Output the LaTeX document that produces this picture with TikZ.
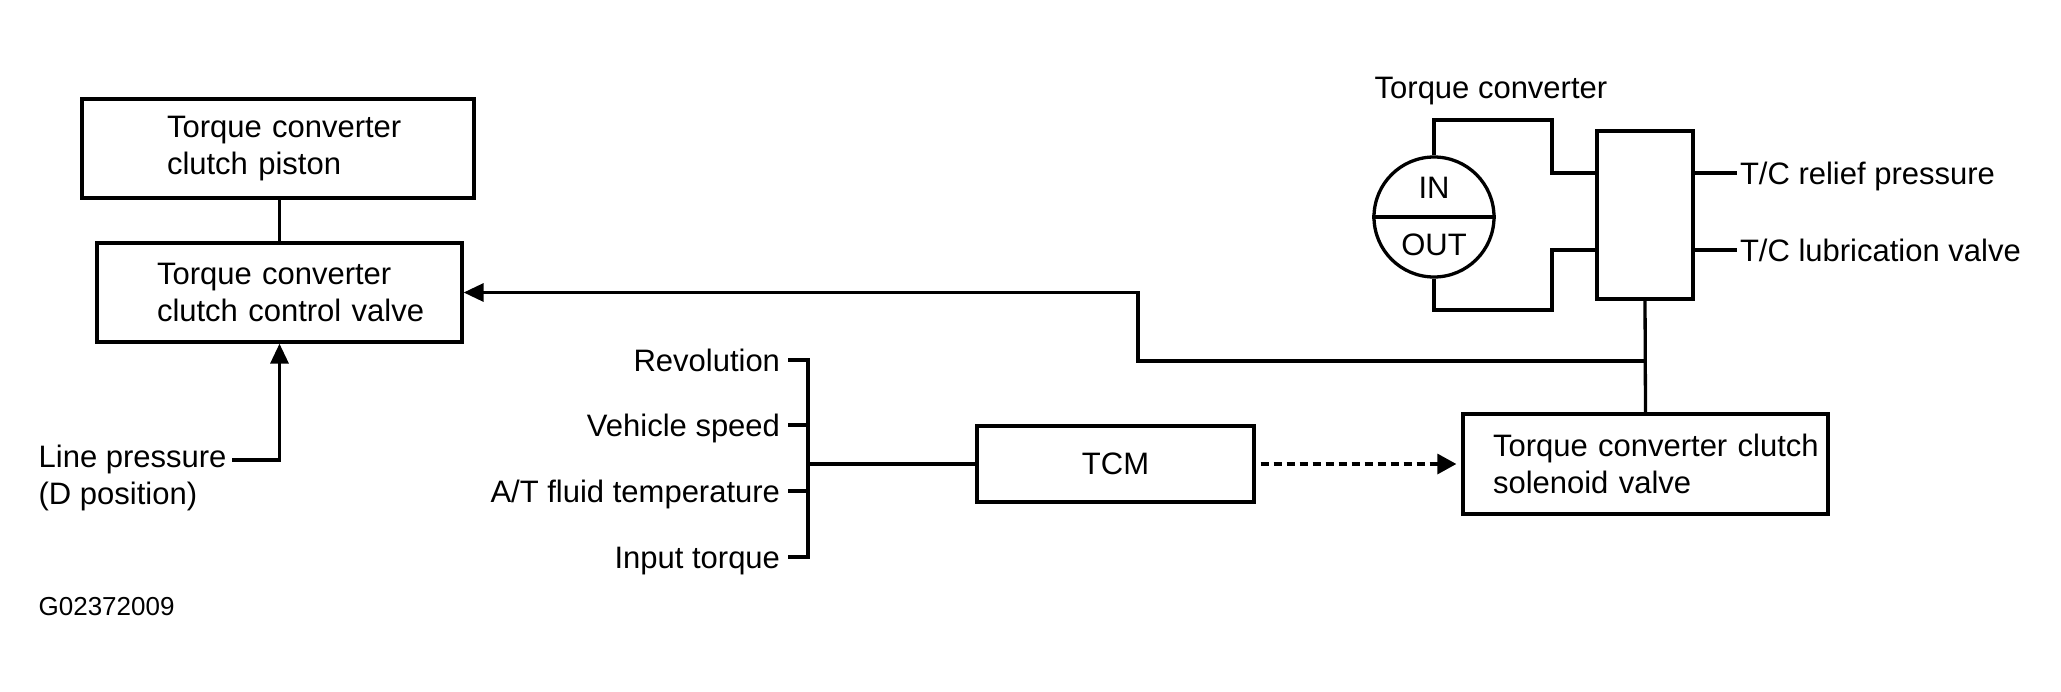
\documentclass[tikz,border=0pt]{standalone}
\usepackage{fontspec}
\setmainfont{Liberation Sans}
\usetikzlibrary{arrows.meta,calc}
\begin{document}
\begin{tikzpicture}[x=1pt,y=-1pt,
  line width=3.3pt,
  font=\fontsize{31}{37}\selectfont,
  rbox/.style={draw, rectangle, inner sep=0pt, line width=3.3pt},
  tbox/.style n args={3}{rbox, text width=#1, minimum height=#2, align=left,
     execute at begin node={\leftskip=#3\relax}},
  lab/.style={inner sep=0pt, text height=22pt, text depth=0pt},
  inlab/.style={lab, outer xsep=8pt},
  arr/.style={-{Triangle[length=20pt,width=18pt]}},
  darr/.style={dash pattern=on 8pt off 5pt, -{Triangle[length=19pt,width=20pt]},
     shorten <=5pt, shorten >=5pt}
]
\fill[white] (0,0) rectangle (2061,691);
\useasboundingbox (0,0) rectangle (2061,691);

% left boxes
\node[tbox={392pt}{99pt}{85pt}] (piston) at (278,148.5) {Torque converter\\clutch piston};
\node[tbox={365pt}{99pt}{60pt}] (valve) at (279.5,292.5) {Torque converter\\clutch control valve};
\draw (valve.north |- piston.south) -- (valve.north);

% line pressure
\node[inner sep=0pt, align=left, anchor=west] (lp) at (37,478) {Line pressure\\(D position)};
\coordinate (lpc) at (232,460);
\draw[arr] (lpc) -| (valve.south);

\node[lab, anchor=base west, font=\fontsize{26}{30}\selectfont] (g) at (37,615) {G02372009};

% inputs and TCM
\node[rbox, minimum width=277pt, minimum height=76pt] (tcm) at (1115.5,464) {TCM};
\node[inlab, anchor=east] (rev) at (788,360) {Revolution};
\node[inlab, anchor=east] (vs) at (788,425) {Vehicle speed};
\node[inlab, anchor=east] (atf) at (788,491) {A/T fluid temperature};
\node[inlab, anchor=east] (it) at (788,557) {Input torque};
\coordinate (bus) at (808,464);
\draw (rev.east) -- (rev.east -| bus) -- (it.east -| bus) -- (it.east);
\draw (vs.east) -- (vs.east -| bus);
\draw (atf.east) -- (atf.east -| bus);
\draw (bus) -- (tcm.west);

% solenoid
\node[tbox={365pt}{100pt}{30pt}] (sol) at (1645.5,464) {Torque converter clutch\\solenoid valve};
\draw[darr] (tcm.east) -- (sol.west);

% torque converter and valve block
\node[lab, anchor=base west] (tch) at (1373,98) {Torque converter};
\node[circle, draw, minimum size=120pt, inner sep=0pt] (tc) at (1434,217) {};
\draw (tc.west) -- (tc.east);
\node[inner sep=0pt, anchor=base] (in) at (1434,198) {IN};
\node[inner sep=0pt, anchor=base] (out) at (1434,255) {OUT};
\node[rbox, minimum width=96pt, minimum height=168pt] (blk) at (1645,215) {};
\node[lab, anchor=west, outer xsep=3pt] (rel) at (1737,173) {T/C relief pressure};
\node[lab, anchor=west, outer xsep=3pt] (lub) at (1737,250) {T/C lubrication valve};
\draw (blk.east |- rel.west) -- (rel.west);
\draw (blk.east |- lub.west) -- (lub.west);
\coordinate (u1) at (1552,120);
\coordinate (l1) at (1552,310);
\draw (tc.north) |- (u1) |- (blk.west |- rel.west);
\draw (tc.south) |- (l1) |- (blk.west |- lub.west);

% feedback to control valve
\draw (blk.south) -- (sol.north);
\coordinate (j1) at (1645,361);
\coordinate (k1) at (1138,361);
\draw[arr] (j1) -- (k1) |- (valve.east);
\end{tikzpicture}
\end{document}
